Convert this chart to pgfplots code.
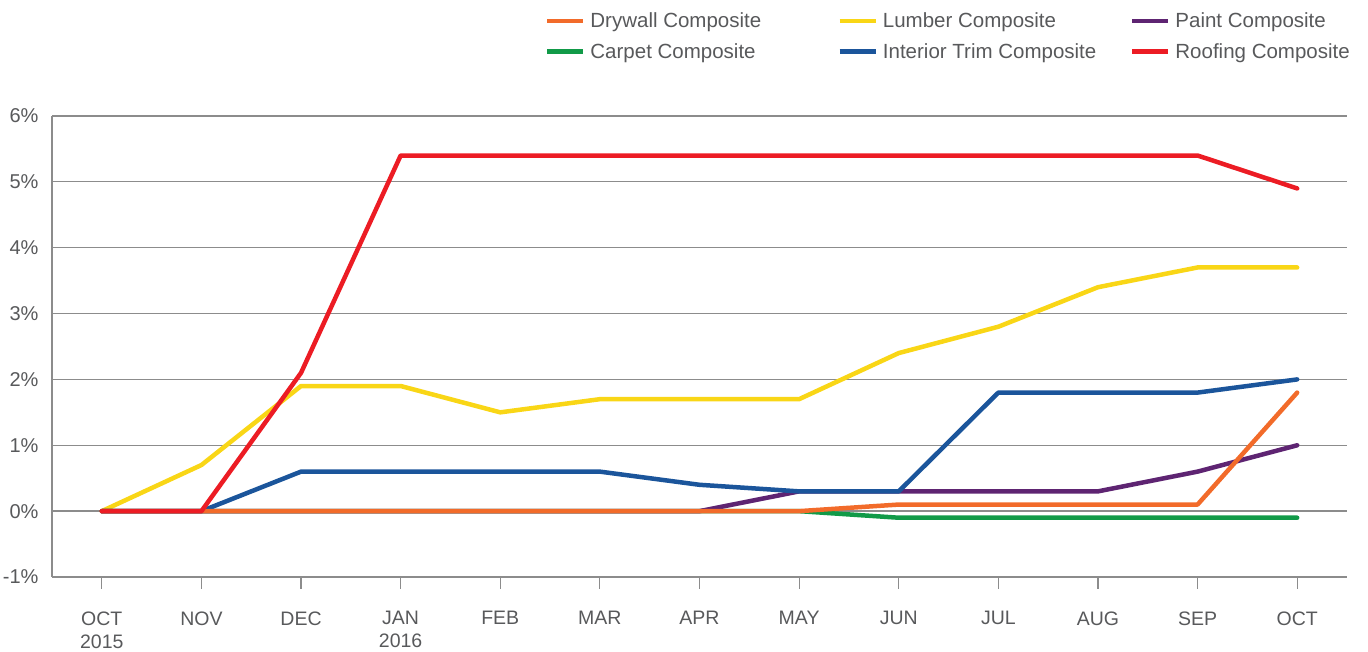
\documentclass[border=0pt]{standalone}
\usepackage{pgfplots}
\pgfplotsset{compat=1.18}
\usepackage{fontspec}
\setmainfont{Liberation Sans}
\definecolor{cDry}{HTML}{F26B2A}
\definecolor{cLum}{HTML}{F9D616}
\definecolor{cPai}{HTML}{5E2472}
\definecolor{cCar}{HTML}{119A48}
\definecolor{cInt}{HTML}{1B559B}
\definecolor{cRoo}{HTML}{EC1C24}
\definecolor{txt}{HTML}{58595B}
\definecolor{grd}{HTML}{8C8C8C}
\begin{document}
\begin{tikzpicture}
\useasboundingbox (0,0) rectangle (1368pt,652pt);
\begin{axis}[
  at={(52pt,75pt)}, anchor=south west,
  scale only axis, width=1295pt, height=461pt,
  xmin=-0.5, xmax=12.5, ymin=-1, ymax=6,
  axis x line*=bottom, axis y line*=left,
  axis line style={grd, line width=1.3pt},
  xtick={0,...,12},
  xticklabels={OCT\\2015,NOV,DEC,JAN\\2016,FEB,MAR,APR,MAY,JUN,JUL,AUG,SEP,OCT},
  xticklabel style={align=center, anchor=north, text=txt, font=\fontsize{19.5}{23}\selectfont, yshift=-19pt},
  tick align=outside,
  major tick length=12pt,
  x tick style={grd, line width=1.2pt},
  ytick={-1,0,...,6},
  yticklabels={-1\%,0\%,1\%,2\%,3\%,4\%,5\%,6\%},
  yticklabel style={text=txt, font=\fontsize{20}{23}\selectfont, xshift=2pt},
  y tick style={draw=none},
  ymajorgrids, major grid style={grd, line width=1.3pt},
  clip=false,
  every axis plot/.append style={line width=4.5pt, line join=round, line cap=round},
  legend columns=3,
  legend cell align=left,
  legend style={draw=none, fill=none, at={(0.3805,1.226)}, anchor=north west,
    font=\fontsize{20.5}{23}\selectfont, text=txt,
    inner sep=0pt, row sep=12pt,
    nodes={inner sep=1pt}},
  legend image code/.code={\draw[#1, line cap=butt] (0pt,0pt) -- (36pt,0pt);},
]
\addlegendimage{cDry}\addlegendentry{\hspace{4pt}\makebox[246pt][l]{Drywall Composite}}
\addlegendimage{cLum}\addlegendentry{\hspace{4pt}\makebox[246pt][l]{Lumber Composite}}
\addlegendimage{cPai}\addlegendentry{\hspace{4pt}Paint Composite}
\addlegendimage{cCar}\addlegendentry{\hspace{4pt}\makebox[246pt][l]{Carpet Composite}}
\addlegendimage{cInt}\addlegendentry{\hspace{4pt}\makebox[246pt][l]{Interior Trim Composite}}
\addlegendimage{cRoo}\addlegendentry{\hspace{4pt}Roofing Composite}

% Lumber
\addplot[cLum, forget plot] coordinates {(0,0) (1,0.7) (2,1.9) (3,1.9) (4,1.5) (5,1.7) (6,1.7) (7,1.7) (8,2.4) (9,2.8) (10,3.4) (11,3.7) (12,3.7)};
% Carpet
\addplot[cCar, forget plot] coordinates {(0,0) (1,0) (2,0) (3,0) (4,0) (5,0) (6,0) (7,0) (8,-0.1) (9,-0.1) (10,-0.1) (11,-0.1) (12,-0.1)};
% Paint
\addplot[cPai, forget plot] coordinates {(0,0) (1,0) (2,0) (3,0) (4,0) (5,0) (6,0) (7,0.3) (8,0.3) (9,0.3) (10,0.3) (11,0.6) (12,1.0)};
% Interior Trim
\addplot[cInt, forget plot] coordinates {(0,0) (1,0) (2,0.6) (3,0.6) (4,0.6) (5,0.6) (6,0.4) (7,0.3) (8,0.3) (9,1.8) (10,1.8) (11,1.8) (12,2.0)};
% Drywall
\addplot[cDry, forget plot] coordinates {(0,0) (1,0) (2,0) (3,0) (4,0) (5,0) (6,0) (7,0) (8,0.1) (9,0.1) (10,0.1) (11,0.1) (12,1.8)};
% Roofing
\addplot[cRoo, forget plot] coordinates {(0,0) (1,0) (2,2.1) (3,5.4) (4,5.4) (5,5.4) (6,5.4) (7,5.4) (8,5.4) (9,5.4) (10,5.4) (11,5.4) (12,4.9)};
\end{axis}
\end{tikzpicture}
\end{document}
